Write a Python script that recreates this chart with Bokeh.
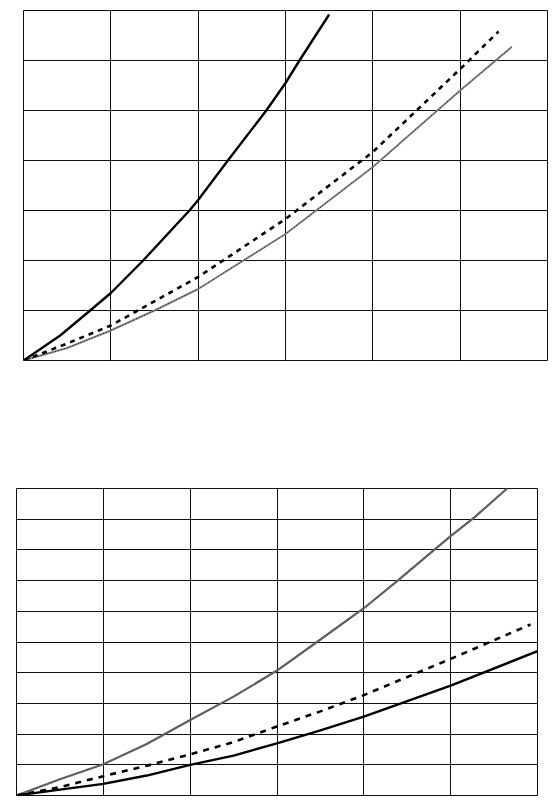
from bokeh.plotting import figure
from bokeh.models import Range1d, Grid, FixedTicker
from bokeh.embed import file_html
from bokeh.resources import INLINE

# ---- data: upper chart (x: 0..6, y: 0..7) ----
top_x_ticks = [0, 1, 2, 3, 4, 5, 6]
top_y_ticks = [0, 1, 2, 3, 4, 5, 6, 7]

top_solid_x = [0, 0.42, 0.75, 1.0, 1.37, 1.9, 2.0, 2.34, 2.78, 3.0, 3.16, 3.5]
top_solid_y = [0, 0.5, 0.98, 1.35, 2.0, 3.0, 3.21, 4.0, 5.0, 5.55, 6.0, 6.92]

top_dash_x = [0, 0.5, 1, 2, 3, 4, 5, 5.44]
top_dash_y = [0, 0.34, 0.7, 1.67, 2.83, 4.17, 5.83, 6.58]

top_dot_x = [0, 0.5, 1, 1.5, 2, 3, 4, 5, 5.59]
top_dot_y = [0, 0.25, 0.6, 1.0, 1.43, 2.53, 3.87, 5.4, 6.27]

# ---- data: lower chart (x: 0..6, y: 0..10) ----
bot_x_ticks = [0, 1, 2, 3, 4, 5, 6]
bot_y_ticks = [0, 1, 2, 3, 4, 5, 6, 7, 8, 9, 10]

bot_gray_x = [0, 0.5, 1, 1.5, 2, 2.5, 3, 3.46, 4, 4.39, 4.81, 5, 5.27, 5.65]
bot_gray_y = [0, 0.53, 1.02, 1.68, 2.46, 3.22, 4.07, 5.0, 6.1, 7.0, 8.0, 8.45, 9.05, 10.0]

bot_dash_x = [0, 0.5, 1, 1.5, 2, 2.5, 3, 3.5, 4, 5, 5.92]
bot_dash_y = [0, 0.27, 0.63, 0.97, 1.34, 1.74, 2.25, 2.74, 3.27, 4.45, 5.57]

bot_solid_x = [0, 0.5, 1, 1.5, 2, 2.5, 3, 3.5, 4, 5, 6]
bot_solid_y = [0, 0.19, 0.38, 0.65, 1.0, 1.3, 1.7, 2.12, 2.57, 3.58, 4.7]


def make_fig(width, height, xr, yr, xt, yt, bl, br, bt, bb):
    p = figure(width=width, height=height, x_range=Range1d(*xr), y_range=Range1d(*yr),
               x_axis_location=None, y_axis_location=None,
               toolbar_location=None, output_backend="svg",
               min_border_left=bl, min_border_right=br,
               min_border_top=bt, min_border_bottom=bb)
    p.grid.visible = False
    p.add_layout(Grid(dimension=0, ticker=FixedTicker(ticks=xt),
                      grid_line_color="#111111", grid_line_width=1))
    p.add_layout(Grid(dimension=1, ticker=FixedTicker(ticks=yt),
                      grid_line_color="#111111", grid_line_width=1))
    p.outline_line_color = "#111111"
    p.outline_line_width = 1
    p.background_fill_color = "white"
    p.border_fill_color = "white"
    return p


# upper panel: frame 524 x 350 px
p1 = make_fig(552, 400, (0, 6), (0, 7), top_x_ticks, top_y_ticks, 23, 5, 10, 40)
p1.line(top_dot_x, top_dot_y, line_color="#8a8a8a", line_width=2, line_join="round")
p1.line(top_dot_x, top_dot_y, line_color="#111111", line_width=1, line_dash="1 2")
p1.line(top_dash_x, top_dash_y, line_color="black", line_width=2.6, line_dash="5 5")
p1.line(top_solid_x, top_solid_y, line_color="black", line_width=2.4, line_join="round")

# lower panel: frame 521 x 307 px
p2 = make_fig(547, 401, (0, 6), (0, 10), bot_x_ticks, bot_y_ticks, 16, 10, 88, 6)
p2.line(bot_gray_x, bot_gray_y, line_color="#5e5e5e", line_width=2.2, line_join="round")
p2.line(bot_dash_x, bot_dash_y, line_color="black", line_width=2.6, line_dash="6 6")
p2.line(bot_solid_x, bot_solid_y, line_color="black", line_width=2.4, line_join="round")

open("out.html", "w").write(file_html([p1, p2], INLINE))
